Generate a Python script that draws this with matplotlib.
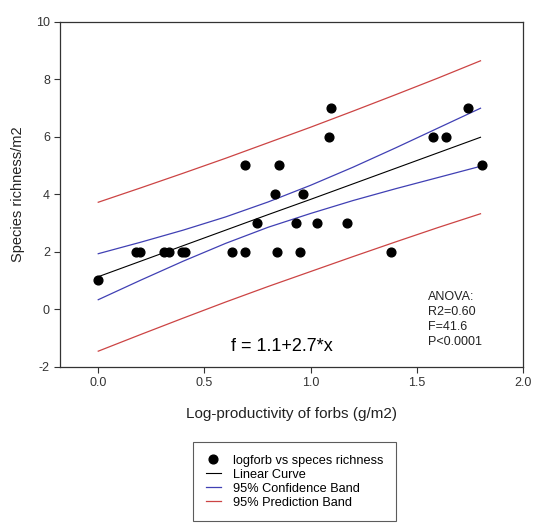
import matplotlib
matplotlib.use("Agg")
from matplotlib import pyplot as plt

plt.rcParams['font.family'] = ['Liberation Sans', 'DejaVu Sans']
plt.rcParams['axes.unicode_minus'] = False

# observations: log-productivity of forbs vs species richness
logforb = [0.0, 0.177, 0.196, 0.309, 0.334, 0.393, 0.408, 0.631, 0.692, 0.689,
           0.747, 0.832, 0.843, 0.851, 0.932, 0.950, 0.965, 1.028, 1.085, 1.094,
           1.169, 1.377, 1.577, 1.636, 1.742, 1.805]
richness = [1, 2, 2, 2, 2, 2, 2, 2, 2, 5,
            3, 4, 2, 5, 3, 2, 4, 3, 6, 7,
            3, 2, 6, 6, 7, 5]

# fitted curve and bands
band_x = [0.0, 0.2, 0.4, 0.6, 0.8, 1.0, 1.2, 1.4, 1.6, 1.8]
fit_y = [1.13, 1.67, 2.21, 2.75, 3.29, 3.82, 4.36, 4.90, 5.44, 5.98]
conf_hi = [1.93, 2.33, 2.75, 3.21, 3.73, 4.31, 4.94, 5.61, 6.30, 6.99]
conf_lo = [0.33, 1.01, 1.67, 2.29, 2.85, 3.33, 3.78, 4.19, 4.58, 4.97]
pred_hi = [3.72, 4.22, 4.73, 5.25, 5.79, 6.33, 6.89, 7.46, 8.04, 8.64]
pred_lo = [-1.46, -0.88, -0.31, 0.25, 0.79, 1.31, 1.83, 2.34, 2.84, 3.32]

fig = plt.figure(figsize=(5.33, 5.24), dpi=100)
ax = fig.add_axes([0.1126, 0.3002, 0.8686, 0.6584])

red = '#cc4444'
blue = '#4040b4'
ax.plot(logforb, richness, 'o', color='black', markersize=6.3,
        label='logforb vs speces richness', zorder=5)
ax.plot(band_x, fit_y, color='black', lw=0.8, label='Linear Curve')
ax.plot(band_x, conf_hi, color=blue, lw=0.9, label='95% Confidence Band')
ax.plot(band_x, conf_lo, color=blue, lw=0.9)
ax.plot(band_x, pred_hi, color=red, lw=0.9, label='95% Prediction Band')
ax.plot(band_x, pred_lo, color=red, lw=0.9)

ax.set_xlim(-0.18, 2.0)
ax.set_ylim(-2, 10)
ax.set_xticks([0.0, 0.5, 1.0, 1.5, 2.0])
ax.set_xticklabels(['0.0', '0.5', '1.0', '1.5', '2.0'])
ax.set_yticks([-2, 0, 2, 4, 6, 8, 10])
ax.tick_params(direction='out', length=4.3, width=0.8, pad=3, labelsize=9,
               color='#333333', labelcolor='#333333')
for sp in ax.spines.values():
    sp.set_color('#333333')
    sp.set_linewidth(0.9)

ax.set_xlabel('Log-productivity of forbs (g/m2)', fontsize=11, labelpad=13, color='#222222')
ax.set_ylabel('Species richness/m2', fontsize=10.5, labelpad=8, color='#222222')

ax.text(0.867, -1.31, 'f = 1.1+2.7*x', fontsize=13, ha='center', va='center')
ax.text(1.551, 0.64, 'ANOVA:\nR2=0.60\nF=41.6\nP<0.0001', fontsize=9,
        ha='left', va='top', linespacing=1.35, color='#222222')

leg = fig.legend(loc='upper left', bbox_to_anchor=(0.362, 0.1565), fontsize=9.2,
                 frameon=True, fancybox=False, edgecolor='#333333',
                 handlelength=1.2, handletextpad=0.9, labelspacing=0.15,
                 borderpad=1.0, borderaxespad=0)
leg.get_frame().set_linewidth(0.8)

fig.savefig('out.png', dpi=100)
